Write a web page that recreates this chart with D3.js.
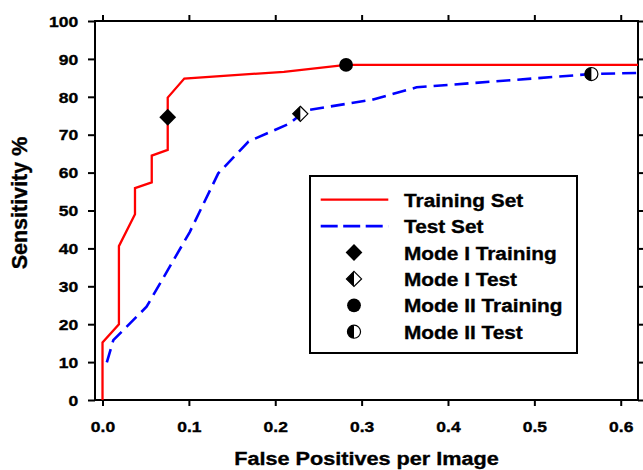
<!DOCTYPE html>
<html>
<head>
<meta charset="utf-8">
<script src="https://cdn.jsdelivr.net/npm/d3@7"></script>
<style>
  body { margin: 0; background: #fff; }
  text { font-family: "Liberation Sans", Arial, sans-serif; font-weight: bold; stroke: #000; stroke-width: 0.35px; }
</style>
</head>
<body>
<svg id="chart" width="643" height="470"></svg>
<script>
// training curve (red, solid)
const trainFP   = [0, 0, 0.019, 0.019, 0.0376, 0.0376, 0.057, 0.057, 0.0755, 0.0755, 0.0947, 0.21, 0.282, 0.62];
const trainSens = [0, 15.2, 20, 40.6, 49, 55.9, 57.4, 64.5, 66, 79.8, 84.8, 86.6, 88.4, 88.4];

// test curve (blue, dashed)
const testFP   = [0.005, 0.0125, 0.051, 0.101, 0.134, 0.169, 0.217, 0.235, 0.3116, 0.3637, 0.566, 0.62];
const testSens = [9.9, 15.8, 24.6, 44.3, 59.8, 68.2, 73, 76.4, 79.2, 82.5, 86, 86.3];

// operating points
const modeNames = ['Mode I Training', 'Mode I Test', 'Mode II Training', 'Mode II Test'];
const modeFP    = [0.0755, 0.229, 0.282, 0.566];
const modeSens  = [74.6, 75.5, 88.4, 86];
const modeShape = ['diamond', 'halfDiamond', 'circle', 'halfCircle'];

const xTicks = [0, 0.1, 0.2, 0.3, 0.4, 0.5, 0.6];
const yTicks = [0, 10, 20, 30, 40, 50, 60, 70, 80, 90, 100];

const svg = d3.select('#chart');
const m = {left: 95, right: 5, top: 21, bottom: 70};
const W = 643, H = 470;

const x = d3.scaleLinear().domain([-0.0087, 0.62]).range([m.left, W - m.right]);
const y = d3.scaleLinear().domain([0, 100]).range([H - m.bottom, m.top]);

const stretch = 'scale(1.13,1)';

// axes (ticks outward on all four sides)
const gx = svg.append('g').attr('transform', `translate(0,${y(0)})`)
  .call(d3.axisBottom(x).tickValues(xTicks).tickFormat(d3.format('.1f')).tickSize(6).tickSizeOuter(0));
gx.selectAll('text').attr('y', 31.7).attr('dy', 0).style('font-size', '15.5px').attr('transform', stretch);

const gy = svg.append('g').attr('transform', `translate(${x.range()[0]},0)`)
  .call(d3.axisLeft(y).tickValues(yTicks).tickSize(7).tickSizeOuter(0));
gy.selectAll('text').attr('x', -14.8).attr('dy', '0.34em').style('font-size', '15.5px').attr('transform', stretch);

svg.append('g').attr('transform', `translate(0,${y(100)})`)
  .call(d3.axisTop(x).tickValues(xTicks).tickFormat('').tickSize(6).tickSizeOuter(0));
svg.append('g').attr('transform', `translate(${x.range()[1]},0)`)
  .call(d3.axisRight(y).tickValues(yTicks).tickFormat('').tickSize(6).tickSizeOuter(0));

svg.selectAll('.domain').remove();
svg.selectAll('.tick line').attr('stroke', '#000').attr('stroke-width', 2);

svg.append('rect')
  .attr('x', x.range()[0]).attr('y', y(100))
  .attr('width', x.range()[1] - x.range()[0]).attr('height', y(0) - y(100))
  .attr('fill', 'none').attr('stroke', '#000').attr('stroke-width', 2);

// axis titles
svg.append('text')
  .attr('transform', `translate(${(x.range()[0] + x.range()[1]) / 2},465) scale(1.14,1)`)
  .attr('text-anchor', 'middle').style('font-size', '19px')
  .text('False Positives per Image');

svg.append('text')
  .attr('transform', 'translate(27,203) rotate(-90)')
  .attr('text-anchor', 'middle').style('font-size', '21.5px')
  .text('Sensitivity %');

// curves
const line = d3.line().x(d => x(d[0])).y(d => y(d[1]));
svg.append('clipPath').attr('id', 'plot').append('rect')
  .attr('x', x.range()[0]).attr('y', y(100))
  .attr('width', x.range()[1] - x.range()[0]).attr('height', y(0) - y(100));

svg.append('path')
  .datum(testFP.map((v, i) => [v, testSens[i]]))
  .attr('d', line).attr('fill', 'none')
  .attr('stroke', '#0000ff').attr('stroke-width', 2.6).attr('stroke-dasharray', '14,7')
  .attr('clip-path', 'url(#plot)');

svg.append('path')
  .datum(trainFP.map((v, i) => [v, trainSens[i]]))
  .attr('d', line).attr('fill', 'none')
  .attr('stroke', '#ff0000').attr('stroke-width', 2.3)
  .attr('clip-path', 'url(#plot)');

// marker drawing
function drawMarker(g, shape, s) {
  if (shape === 'diamond') {
    g.append('path').attr('d', `M0,${-s}L${s},0L0,${s}L${-s},0Z`).attr('fill', '#000');
  } else if (shape === 'halfDiamond') {
    const k = s * 0.9;
    g.append('path').attr('d', `M0,${-k}L${k},0L0,${k}L${-k},0Z`)
      .attr('fill', '#fff').attr('stroke', '#000').attr('stroke-width', 1.2);
    g.append('path').attr('d', `M0,${-k}L${-k},0L0,${k}Z`).attr('fill', '#000');
  } else if (shape === 'circle') {
    g.append('circle').attr('r', s * 0.82).attr('fill', '#000');
  } else {
    const r = s * 0.78;
    g.append('circle').attr('r', r).attr('fill', '#fff').attr('stroke', '#000').attr('stroke-width', 1.2);
    g.append('path').attr('d', `M0,${-r}A${r},${r} 0 0 0 0,${r}Z`).attr('fill', '#000');
  }
}

modeNames.forEach((name, i) => {
  const g = svg.append('g').attr('transform', `translate(${x(modeFP[i])},${y(modeSens[i])})`);
  drawMarker(g, modeShape[i], 8.4);
});

// legend
const legendLabels = ['Training Set', 'Test Set'].concat(modeNames);
const lg = svg.append('g');
lg.append('rect').attr('x', 310).attr('y', 176).attr('width', 267).attr('height', 177)
  .attr('fill', '#fff').attr('stroke', '#000').attr('stroke-width', 2);

legendLabels.forEach((label, i) => {
  const cy = 199.7 + i * 26.4;
  if (i === 0) {
    lg.append('line').attr('x1', 320.7).attr('x2', 388.3).attr('y1', cy).attr('y2', cy)
      .attr('stroke', '#ff0000').attr('stroke-width', 2.3);
  } else if (i === 1) {
    lg.append('line').attr('x1', 320.7).attr('x2', 388.3).attr('y1', cy).attr('y2', cy)
      .attr('stroke', '#0000ff').attr('stroke-width', 2.6).attr('stroke-dasharray', '17,5.5');
  } else {
    const g = lg.append('g').attr('transform', `translate(354,${cy})`);
    drawMarker(g, modeShape[i - 2], 8.4);
  }
  lg.append('text')
    .attr('transform', `translate(404,${cy + 7}) scale(1.12,1)`)
    .style('font-size', '18.6px')
    .text(label);
});
</script>
</body>
</html>
